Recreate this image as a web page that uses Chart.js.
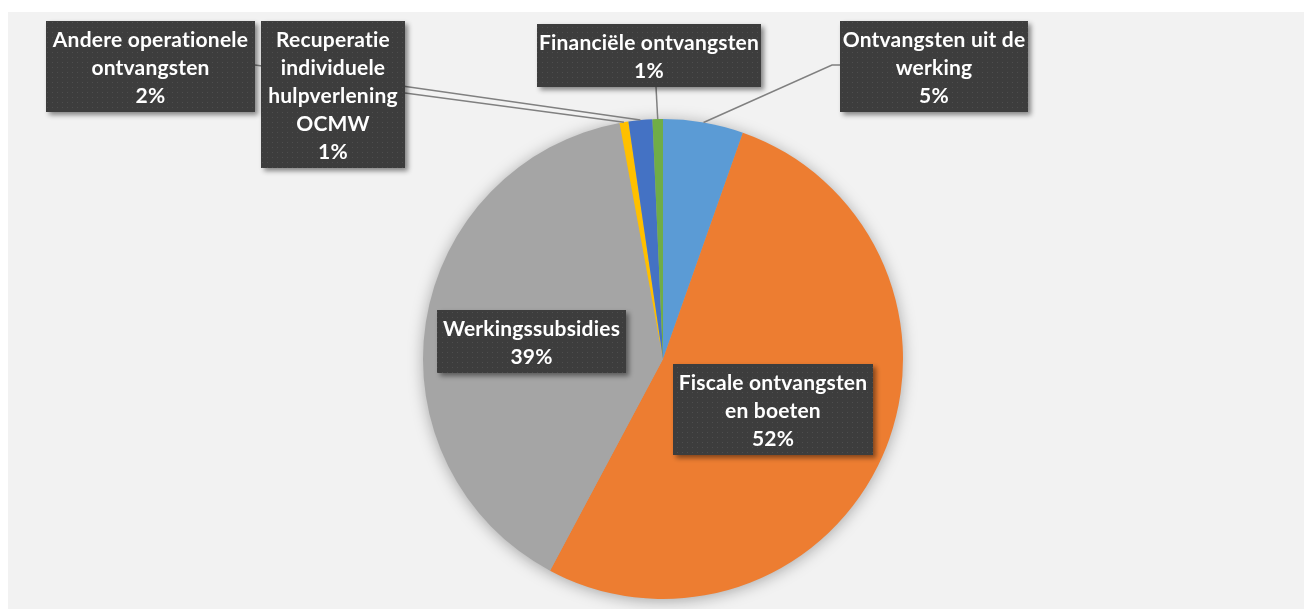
<!DOCTYPE html>
<html>
<head>
<meta charset="utf-8">
<script src="https://cdn.jsdelivr.net/npm/chart.js@4/dist/chart.umd.min.js"></script>
<style>
    html, body { margin: 0; padding: 0; background: #fff; }
    #wrap { position: absolute; left: 0; top: 0; width: 1304px; height: 609px; }
</style>
</head>
<body>
<div id="wrap"><canvas id="pieChart" width="1304" height="609"></canvas></div>
<script>
// Data (shares in %)
const categories = [
    'Ontvangsten uit de werking',
    'Fiscale ontvangsten en boeten',
    'Werkingssubsidies',
    'Recuperatie individuele hulpverlening OCMW',
    'Andere operationele ontvangsten',
    'Financiële ontvangsten'
];
const shares = [5.4, 52.4, 39.3, 0.6, 1.6, 0.7];
const sliceColors = ['#5B9BD5', '#ED7D31', '#A5A5A5', '#FFC000', '#4472C4', '#70AD47'];

// How each label is wrapped in the original
const labelLines = [
    ['Ontvangsten uit de', 'werking'],
    ['Fiscale ontvangsten', 'en boeten'],
    ['Werkingssubsidies'],
    ['Recuperatie', 'individuele', 'hulpverlening', 'OCMW'],
    ['Andere operationele', 'ontvangsten'],
    ['Financiële ontvangsten']
];

// Label boxes were dragged by hand in the original, so they get fixed spots
const labelBoxes = [
    { x: 840, y: 21, w: 188, from: [[840, 65], [832, 65]] },
    { x: 673, y: 364, w: 200 },
    { x: 437, y: 310, w: 189 },
    { x: 261, y: 21, w: 144, from: [[405, 93]] },
    { x: 46, y: 21, w: 209, from: [[255, 65]] },
    { x: 537, y: 24, w: 224, from: [[656, 87]] }
];

const LINE_H = 28;
const FONT = 'bold 21px Lato, "Open Sans", sans-serif';

const total = shares.reduce((a, b) => a + b, 0);
const percentText = shares.map(v => Math.round(v / total * 100) + '%');

// dotted fill like the Excel label style
function makePattern(ctx) {
    const tile = document.createElement('canvas');
    tile.width = 5;
    tile.height = 5;
    const t = tile.getContext('2d');
    t.fillStyle = '#3d3d3d';
    t.fillRect(0, 0, 5, 5);
    t.fillStyle = '#4e4e4e';
    t.fillRect(2, 2, 1, 1);
    return ctx.createPattern(tile, 'repeat');
}

const backgroundPlugin = {
    id: 'background',
    beforeDraw(chart) {
        const ctx = chart.ctx;
        ctx.save();
        ctx.fillStyle = '#ffffff';
        ctx.fillRect(0, 0, chart.width, chart.height);
        ctx.fillStyle = '#f2f2f2';
        ctx.fillRect(8, 12, chart.width - 8, chart.height - 12);
        ctx.restore();
    }
};

// soft shadow under the whole pie
const pieShadowPlugin = {
    id: 'pieShadow',
    beforeDatasetsDraw(chart) {
        const arc = chart.getDatasetMeta(0).data[0];
        if (!arc) return;
        const ctx = chart.ctx;
        ctx.save();
        ctx.shadowColor = 'rgba(0,0,0,0.35)';
        ctx.shadowBlur = 16;
        ctx.shadowOffsetY = 2;
        ctx.fillStyle = '#a5a5a5';
        ctx.beginPath();
        ctx.arc(arc.x, arc.y, arc.outerRadius - 1, 0, Math.PI * 2);
        ctx.fill();
        ctx.restore();
    }
};

const dataLabelPlugin = {
    id: 'boxLabels',
    afterDatasetsDraw(chart) {
        const ctx = chart.ctx;
        const arcs = chart.getDatasetMeta(0).data;

        // leader lines first, the boxes cover their ends
        ctx.save();
        ctx.strokeStyle = '#808080';
        ctx.lineWidth = 1.5;
        arcs.forEach((arc, i) => {
            const box = labelBoxes[i];
            if (!box.from) return;
            const mid = (arc.startAngle + arc.endAngle) / 2;
            const ex = arc.x + Math.cos(mid) * arc.outerRadius;
            const ey = arc.y + Math.sin(mid) * arc.outerRadius;
            ctx.beginPath();
            ctx.moveTo(box.from[0][0], box.from[0][1]);
            box.from.slice(1).forEach(p => ctx.lineTo(p[0], p[1]));
            ctx.lineTo(ex, ey);
            ctx.stroke();
        });
        ctx.restore();

        const pattern = makePattern(ctx);
        arcs.forEach((arc, i) => {
            const box = labelBoxes[i];
            const lines = labelLines[i].concat([percentText[i]]);
            const h = lines.length * LINE_H + 7;

            ctx.save();
            ctx.shadowColor = 'rgba(0,0,0,0.45)';
            ctx.shadowBlur = 5;
            ctx.shadowOffsetX = 3;
            ctx.shadowOffsetY = 3;
            ctx.fillStyle = pattern;
            ctx.fillRect(box.x, box.y, box.w, h);
            ctx.restore();

            ctx.save();
            ctx.fillStyle = '#ffffff';
            ctx.font = FONT;
            // a tiny spacing keeps Lato from joining "ti" into a ligature
            ctx.letterSpacing = '0.2px';
            ctx.textAlign = 'center';
            ctx.textBaseline = 'middle';
            lines.forEach((txt, k) => {
                ctx.fillText(txt, box.x + box.w / 2, box.y + 19 + k * LINE_H);
            });
            ctx.restore();
        });
    }
};

const ctx = document.getElementById('pieChart').getContext('2d');
new Chart(ctx, {
    type: 'pie',
    data: {
        labels: categories,
        datasets: [{
            data: shares,
            backgroundColor: sliceColors,
            borderWidth: 0
        }]
    },
    options: {
        responsive: false,
        animation: false,
        layout: { padding: { top: 119, bottom: 10, left: 30, right: 8 } },
        plugins: {
            legend: { display: false },
            tooltip: { enabled: false }
        }
    },
    plugins: [backgroundPlugin, pieShadowPlugin, dataLabelPlugin]
});
</script>
</body>
</html>
